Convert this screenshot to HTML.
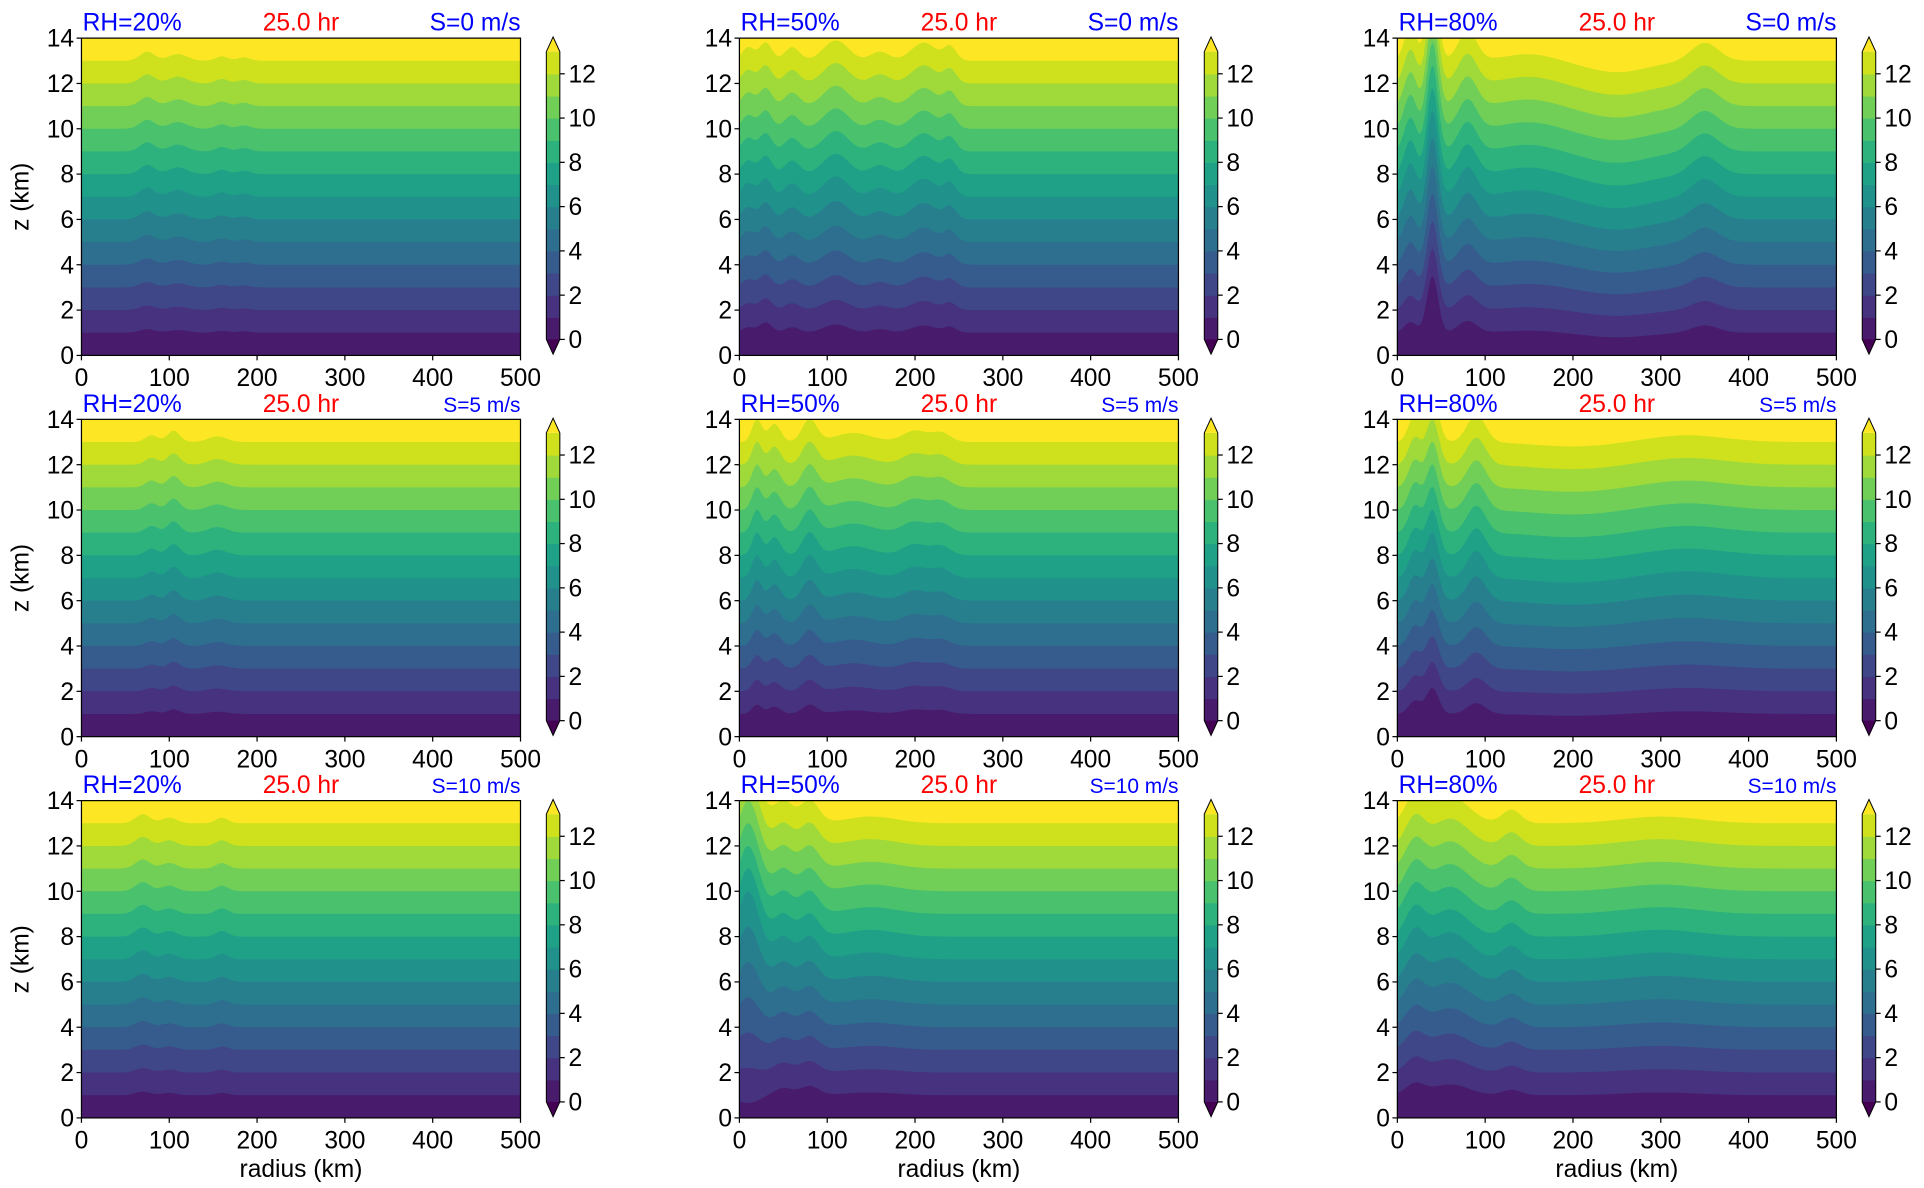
<!DOCTYPE html>
<html><head><meta charset="utf-8">
<style>
html,body{margin:0;padding:0;background:#fff;}
svg{display:block;font-family:"Liberation Sans","DejaVu Sans",sans-serif;}
</style></head>
<body>
<svg id="fig" width="1924" height="1188" viewBox="0 0 1564 966" xmlns="http://www.w3.org/2000/svg"></svg>
<script>
// ---- data ----
const rhLabels = ["RH=20%","RH=50%","RH=80%"];
const shearLabels = ["S=0 m/s","S=5 m/s","S=10 m/s"];
const timeLabel = "25.0 hr";
const xTicks = [0,100,200,300,400,500];
const yTicks = [0,2,4,6,8,10,12,14];
const cbTicks = [0,2,4,6,8,10,12];
const levels = [1,2,3,4,5,6,7,8,9,10,11,12,13];
// bump features per panel [row][col]: centers (km), amplitudes (km), widths (km), low-level weight
const bumpCenters = [
 [[75,110,160,185],[10,30,60,110,160,210,240],[15,40,80,150,250,350]],
 [[80,105,155],[20,40,80,130,200,230],[20,40,90,200,330]],
 [[70,100,160],[10,50,80,150],[20,60,130,300]]
];
const bumpAmps = [
 [[0.4,0.3,0.2,0.15],[0.6,0.8,0.6,0.9,0.4,0.8,0.6],[1.5,3.8,1.3,0.3,-0.5,0.8]],
 [[0.3,0.5,0.25],[1.0,0.8,1.0,0.4,0.5,0.4],[1.2,2.0,1.2,-0.2,0.3]],
 [[0.4,0.25,0.25],[3.0,1.0,1.0,0.3],[1.2,1.2,0.6,0.3]]
];
const bumpWidths = [
 [[12,15,10,10],[10,10,12,20,15,20,10],[10,9,15,40,50,22]],
 [[10,10,15],[8,10,12,30,20,15],[10,10,15,60,60]],
 [[12,12,10],[18,15,15,40],[15,30,15,60]]
];
const bumpLow = [
 [[0.3,0.3,0.3,0.3],[0.3,0.5,0.3,0.3,0.3,0.3,0.3],[0.2,0.6,0.3,0.2,0.3,0.3]],
 [[0.3,0.3,0.3],[0.3,0.3,0.3,0.3,0.3,0.3],[0.4,0.5,0.3,0.3,0.3]],
 [[0.3,0.3,0.3],[-0.3,0.2,0.3,0.3],[0.3,0.3,0.3,0.3]]
];
const colors = ["#440154","#481b6d","#46327e","#3f4788","#365c8d","#2e6e8e","#277f8e","#21918c","#1fa187","#2db27d","#4ac16d","#71cf57","#9fda3a","#cfe11c","#fde725"];

const svg = document.getElementById('fig');
const NS = "http://www.w3.org/2000/svg";
function mk(tag, attrs, parent){const e=document.createElementNS(NS,tag);for(const k in attrs)e.setAttribute(k,attrs[k]);(parent||svg).appendChild(e);return e;}

const colX = [66,601,1136], rowY = [31,341,651];
const AW = 357, AH = 258;
const cbDX = 378, cbW = 11;
const FS = 20;

for(let r=0;r<3;r++){for(let c=0;c<3;c++){
  const x0=colX[c], y0=rowY[r];
  const xs = v => x0 + v/500*AW;
  const ys = v => y0 + AH - v/14*AH;
  const g = mk('g',{});
  
  
  const cid='clip'+r+c;
  const cp=mk('clipPath',{id:cid},g); mk('rect',{x:x0,y:y0,width:AW,height:AH},cp);
  const cg=mk('g',{'clip-path':'url(#'+cid+')'},g);
  const bg=mk('rect',{x:x0,y:y0,width:AW,height:AH,fill:colors[14]},cg);
  
  
  const cen=bumpCenters[r][c], amp=bumpAmps[r][c], wid=bumpWidths[r][c], low=bumpLow[r][c];
  for(let li=levels.length-1;li>=0;li--){
    const L=levels[li];
    let pts=[];
    for(let rr=0;rr<=500;rr+=2){
      let d=0;
      for(let k=0;k<cen.length;k++){
        const w = low[k]+(1-low[k])*Math.min(1,L/7);
        d += amp[k]*w*Math.exp(-Math.pow((rr-cen[k])/wid[k],2));
      }
      pts.push(xs(rr).toFixed(1)+','+ys(L+d).toFixed(1));
    }
    pts.push(xs(500)+','+(y0+AH+5)); pts.push(xs(0)+','+(y0+AH+5));
    const p=mk('polygon',{points:pts.join(' '),fill:colors[L]},cg);
    
    
  }
  mk('rect',{x:x0,y:y0,width:AW,height:AH,fill:'none',stroke:'#000','stroke-width':1},g);
  xTicks.forEach(t=>{mk('line',{x1:xs(t),x2:xs(t),y1:y0+AH,y2:y0+AH+4,stroke:'#000'},g);
    const tx=mk('text',{x:xs(t),y:y0+AH+25,'font-size':FS,'text-anchor':'middle'},g);tx.textContent=t;
    
    });
  yTicks.forEach(t=>{mk('line',{x1:x0-4,x2:x0,y1:ys(t),y2:ys(t),stroke:'#000'},g);
    const tx=mk('text',{x:x0-6,y:ys(t)+7,'font-size':FS,'text-anchor':'end'},g);tx.textContent=t;
    
    });
  const t1=mk('text',{x:x0+1,y:y0-6,'font-size':FS,fill:'#0000ff'},g);t1.textContent=rhLabels[c];
  
  
  const t2=mk('text',{x:x0+AW/2,y:y0-6,'font-size':FS,fill:'#ff0000','text-anchor':'middle'},g);t2.textContent=timeLabel;
  
  
  const t3=mk('text',{x:x0+AW,y:y0-6,'font-size':r==0?FS:17,fill:'#0000ff','text-anchor':'end'},g);t3.textContent=shearLabels[r];
  
  
  if(c==0){const yl=mk('text',{x:0,y:0,'font-size':FS,'text-anchor':'middle',transform:'translate(23,'+(y0+AH/2)+') rotate(-90)'},g);yl.textContent='z (km)';
    
    }
  if(r==2){const xl=mk('text',{x:x0+AW/2,y:y0+AH+48,'font-size':FS,'text-anchor':'middle'},g);xl.textContent='radius (km)';
    
    }
  const cx=x0+cbDX, cb0=y0+245, bh=18;
  const cbg=mk('g',{},g);
  
  
  for(let k=0;k<13;k++){mk('rect',{x:cx,y:cb0-(k+1)*bh,width:cbW,height:bh+0.5,fill:colors[k+1]},cbg);}
  mk('polygon',{points:cx+','+(cb0-13*bh)+' '+(cx+cbW)+','+(cb0-13*bh)+' '+(cx+cbW/2)+','+(cb0-13*bh-12),fill:colors[14]},cbg);
  mk('polygon',{points:cx+','+cb0+' '+(cx+cbW)+','+cb0+' '+(cx+cbW/2)+','+(cb0+12),fill:colors[0]},cbg);
  mk('polygon',{points:[cx,cb0-13*bh, cx+cbW/2,cb0-13*bh-12, cx+cbW,cb0-13*bh, cx+cbW,cb0, cx+cbW/2,cb0+12, cx,cb0].join(' ').replace(/(\S+) (\S+)/g,'$1,$2'),fill:'none',stroke:'#000','stroke-width':0.8},cbg);
  cbTicks.forEach(t=>{const yy=cb0-t*bh;mk('line',{x1:cx+cbW,x2:cx+cbW+4,y1:yy,y2:yy,stroke:'#000'},cbg);
    const tx=mk('text',{x:cx+cbW+7,y:yy+7,'font-size':FS},cbg);tx.textContent=t;
    
    });
}}
</script>
</body></html>
